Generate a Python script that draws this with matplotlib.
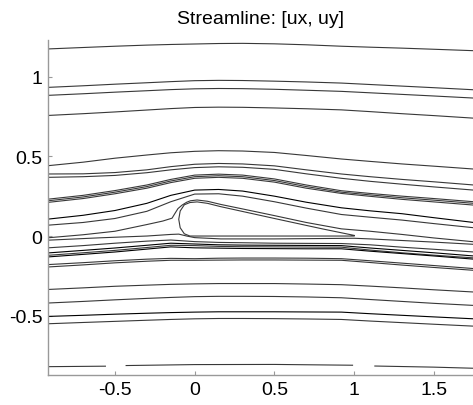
import numpy as np
import matplotlib
matplotlib.use('Agg')
import matplotlib.pyplot as plt

plt.rcParams['font.family'] = ['Liberation Sans', 'DejaVu Sans']

xs = [-0.92, -0.7, -0.5, -0.3, -0.15, 0.0, 0.15, 0.3, 0.5, 0.7, 0.92, 1.1, 1.3, 1.5, 1.75]

# streamlines above the body
s01 = [1.173, 1.182, 1.190, 1.197, 1.201, 1.204, 1.207, 1.208, 1.205, 1.199, 1.190, 1.184, 1.178, 1.171, 1.162]
s02 = [0.932, 0.942, 0.952, 0.961, 0.968, 0.974, 0.976, 0.975, 0.971, 0.966, 0.959, 0.950, 0.940, 0.930, 0.917]
s03 = [0.882, 0.892, 0.902, 0.911, 0.918, 0.923, 0.925, 0.924, 0.920, 0.914, 0.907, 0.898, 0.888, 0.878, 0.865]
s04 = [0.756, 0.767, 0.778, 0.790, 0.799, 0.806, 0.808, 0.807, 0.803, 0.798, 0.791, 0.780, 0.767, 0.755, 0.739]
s05 = [0.441, 0.463, 0.488, 0.508, 0.522, 0.531, 0.535, 0.533, 0.524, 0.505, 0.483, 0.468, 0.452, 0.438, 0.420]
s06 = [0.389, 0.390, 0.398, 0.415, 0.435, 0.450, 0.455, 0.452, 0.440, 0.415, 0.389, 0.372, 0.355, 0.340, 0.320]
s07 = [0.368, 0.372, 0.380, 0.397, 0.415, 0.429, 0.434, 0.431, 0.418, 0.390, 0.362, 0.343, 0.325, 0.308, 0.288]
s08a = [0.231, 0.255, 0.285, 0.320, 0.355, 0.382, 0.388, 0.382, 0.358, 0.320, 0.284, 0.267, 0.250, 0.235, 0.215]
s08b = [0.221, 0.245, 0.275, 0.310, 0.345, 0.372, 0.378, 0.372, 0.348, 0.310, 0.275, 0.258, 0.240, 0.225, 0.205]
s08c = [0.211, 0.235, 0.265, 0.300, 0.335, 0.362, 0.368, 0.362, 0.338, 0.300, 0.267, 0.249, 0.230, 0.214, 0.194]
s09 = [0.106, 0.130, 0.160, 0.205, 0.255, 0.288, 0.292, 0.282, 0.250, 0.212, 0.177, 0.158, 0.140, 0.115, 0.085]
s10 = [0.068, 0.085, 0.110, 0.155, 0.215, 0.263, 0.265, 0.250, 0.215, 0.175, 0.135, 0.118, 0.100, 0.078, 0.052]

# streamlines below the body
s12 = [-0.074, -0.060, -0.045, -0.032, -0.025, -0.035, -0.040, -0.042, -0.045, -0.046, -0.047, -0.055, -0.070, -0.083, -0.100]
s13a = [-0.106, -0.090, -0.075, -0.058, -0.045, -0.050, -0.055, -0.057, -0.058, -0.059, -0.060, -0.075, -0.090, -0.105, -0.125]
s13b = [-0.121, -0.105, -0.090, -0.072, -0.058, -0.060, -0.065, -0.067, -0.068, -0.069, -0.070, -0.088, -0.105, -0.120, -0.137]
s13c = [-0.131, -0.115, -0.100, -0.082, -0.068, -0.074, -0.076, -0.078, -0.079, -0.080, -0.080, -0.095, -0.110, -0.125, -0.145]
s14a = [-0.179, -0.167, -0.155, -0.145, -0.140, -0.142, -0.139, -0.138, -0.138, -0.139, -0.142, -0.155, -0.170, -0.185, -0.204]
s14b = [-0.194, -0.181, -0.168, -0.158, -0.152, -0.152, -0.151, -0.150, -0.150, -0.151, -0.152, -0.166, -0.182, -0.197, -0.215]
s15 = [-0.335, -0.325, -0.315, -0.308, -0.303, -0.300, -0.298, -0.298, -0.298, -0.301, -0.305, -0.314, -0.325, -0.337, -0.351]
s16 = [-0.420, -0.410, -0.400, -0.391, -0.385, -0.380, -0.378, -0.378, -0.379, -0.382, -0.387, -0.398, -0.410, -0.422, -0.435]
s17 = [-0.504, -0.497, -0.490, -0.484, -0.480, -0.477, -0.475, -0.475, -0.475, -0.476, -0.477, -0.487, -0.497, -0.507, -0.519]
s18 = [-0.550, -0.542, -0.535, -0.528, -0.523, -0.519, -0.517, -0.517, -0.518, -0.520, -0.523, -0.533, -0.543, -0.553, -0.565]

# lines wrapping the leading edge (over the top / under the bottom)
s11a_x = [-0.92, -0.7, -0.5, -0.3, -0.2, -0.142, -0.125, -0.105, -0.079, -0.05, -0.027, 0.015, 0.08, 0.164,
          0.3, 0.5, 0.7, 0.92, 1.1, 1.3, 1.5, 1.75]
s11a_y = [-0.011, 0.008, 0.030, 0.072, 0.094, 0.112, 0.140, 0.172, 0.194, 0.212, 0.221, 0.226, 0.218, 0.198,
          0.170, 0.128, 0.085, 0.045, 0.030, 0.010, -0.012, -0.036]
s11b_x = [-0.92, -0.7, -0.59, -0.3, -0.15, -0.10, -0.05, 0.0, 0.164, 0.5, 1.0, 1.1, 1.3, 1.5, 1.75]
s11b_y = [-0.026, -0.016, -0.011, 0.0, 0.010, 0.012, 0.0, -0.010, -0.018, -0.018, -0.014, -0.018, -0.028, -0.038, -0.052]

# body outline (closed separatrix)
body_x = [1.0, 0.5, 0.1, -0.03, -0.065, -0.091, -0.10, -0.091, -0.065, -0.03, 0.015, 0.08, 0.164, 0.5, 0.8, 1.0]
body_y = [0.0, 0.0, 0.0, 0.0, 0.014, 0.052, 0.105, 0.157, 0.196, 0.210, 0.214, 0.205, 0.184, 0.110, 0.045, 0.004]

# broken bottom streamline
s19_x = [-0.92, -0.56, np.nan, -0.43, 0.0, 0.5, 0.99, np.nan, 1.13, 1.5, 1.75]
s19_y = [-0.819, -0.816, np.nan, -0.812, -0.806, -0.805, -0.810, np.nan, -0.815, -0.822, -0.829]

fig = plt.figure(figsize=(4.73, 4.06), dpi=100)
ax = fig.add_axes([0.1015, 0.074, 0.9, 0.825])

c = '0.22'
lw = 0.8
for ys in [s01, s02, s03, s04, s05, s06, s07, s08a, s08b, s08c, s10,
           s12, s13b, s14a, s14b, s15, s16, s18]:
    ax.plot(xs, ys, color=c, lw=lw)
for ys in [s09, s13a, s13c, s17]:
    ax.plot(xs, ys, color='0.0', lw=lw)
ax.plot(s11a_x, s11a_y, color=c, lw=lw)
ax.plot(s11b_x, s11b_y, color=c, lw=lw)
ax.plot(body_x, body_y, color=c, lw=lw)
ax.plot(s19_x, s19_y, color=c, lw=lw)

ax.set_xlim(-0.92, 1.75)
ax.set_ylim(-0.871, 1.229)
ax.set_xticks([-0.5, 0, 0.5, 1, 1.5])
ax.set_xticklabels(['-0.5', '0', '0.5', '1', '1.5'])
ax.set_yticks([-0.5, 0, 0.5, 1])
ax.set_yticklabels(['-0.5', '0', '0.5', '1'])

for s in ['top', 'right']:
    ax.spines[s].set_visible(False)
for s in ['left', 'bottom']:
    ax.spines[s].set_color('#999999')
    ax.spines[s].set_linewidth(1.0)
ax.tick_params(direction='in', length=3, color='#999999', labelsize=14, pad=4)

ax.set_title('Streamline: [ux, uy]', fontsize=14, pad=12)

fig.savefig('out.png', dpi=100)
